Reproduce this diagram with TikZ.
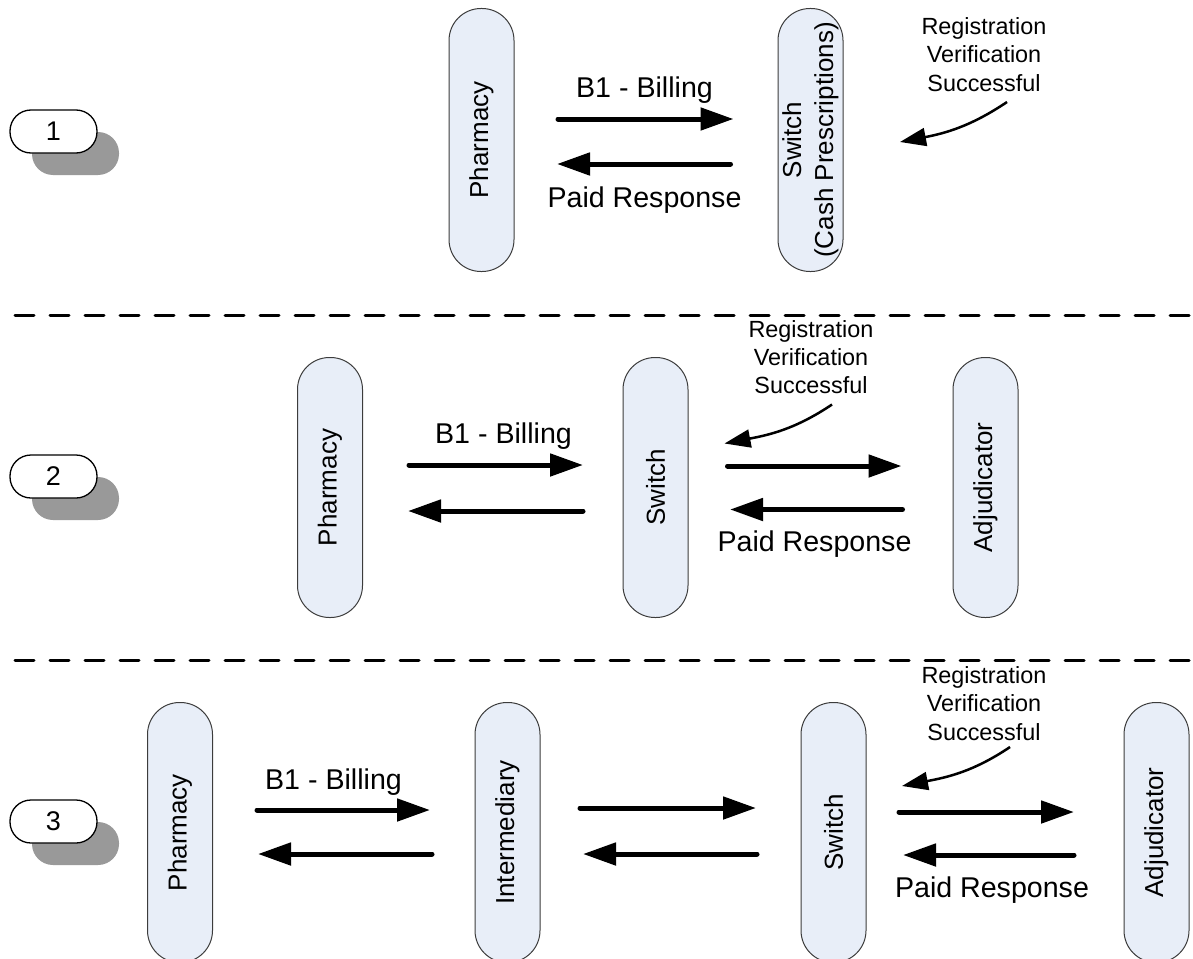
\documentclass[tikz,border=0pt]{standalone}
\usepackage{fontspec}
\setmainfont{Liberation Sans}
\usetikzlibrary{arrows.meta}
\definecolor{pillfill}{RGB}{232,238,248}
\definecolor{pillline}{RGB}{60,60,60}
\definecolor{shadowgray}{RGB}{153,153,153}
\begin{document}
\begin{tikzpicture}[x=1pt,y=1pt,
  pill/.style={draw=pillline, line width=1pt, fill=pillfill, rounded corners=32pt,
    minimum width=260pt, minimum height=65pt, inner sep=0pt, align=center, rotate=90,
    font=\fontsize{26}{32}\selectfont},
  numlabel/.style={draw=black, line width=1.3pt, fill=white, rounded corners=21pt,
    minimum width=87pt, minimum height=43pt, inner sep=0pt, font=\fontsize{27}{32}\selectfont},
  numshadow/.style={fill=shadowgray, rounded corners=21pt, minimum width=87pt,
    minimum height=43pt, inner sep=0pt},
  flow/.style={line width=5pt, line cap=round, -{Triangle[length=33pt,width=22pt]}},
  note/.style={line width=2.5pt, -{Triangle[length=26pt,width=18pt]}},
  sep/.style={line width=3pt, line cap=round, dash pattern=on 19pt off 16pt},
  lbl/.style={font=\fontsize{28.6}{34}\selectfont, anchor=base, inner sep=0pt},
  regtxt/.style={font=\fontsize{23.4}{28}\selectfont, anchor=base, inner sep=0pt}
]
\useasboundingbox (0,0) rectangle (1193,-958);

% separators
\draw[sep] (15,-315.5) -- (1193,-315.5);
\draw[sep] (15,-660) -- (1193,-660);

% ---------- Section 1 ----------
\node[numshadow] (s1) at (75.5,-153.5) {};
\node[numlabel] (n1) at (53.5,-131.5) {1};
\node[pill, minimum width=263pt] (ph1) at (481.5,-140) {Pharmacy};
\node[pill, minimum width=263pt] (sw1) at (810.5,-140) {Switch\\(Cash Prescriptions)};
\draw[flow, shorten <=76.5pt, shorten >=77pt] (ph1.center |- 0,-119) -- (sw1.center |- 0,-119);
\draw[flow, shorten <=80pt, shorten >=75.5pt] (sw1.center |- 0,-164) -- (ph1.center |- 0,-164);
\node[lbl] (b1) at (644.5,-97) {B1 - Billing};
\node[lbl] (p1) at (644.5,-207) {Paid Response};
\node[regtxt] (r1a) at (984,-35) {Registration};
\node[regtxt] (r1b) at (984,-63) {Verification};
\node[regtxt] (r1c) at (984,-91.5) {Successful};
\coordinate (c1s) at (1007,-102);
\coordinate (c1e) at (900,-142);
\draw[note] (c1s) to[out=214, in=11] (c1e);

% ---------- Section 2 ----------
\node[numshadow] (s2) at (75.5,-498.5) {};
\node[numlabel] (n2) at (53.5,-476.5) {2};
\node[pill] (ph2) at (330,-487.5) {Pharmacy};
\node[pill] (sw2) at (655.5,-487.5) {Switch};
\node[pill] (ad2) at (985.5,-487.5) {Adjudicator};
\draw[flow, shorten <=79pt, shorten >=72.5pt] (ph2.center |- 0,-465) -- (sw2.center |- 0,-465);
\draw[flow, shorten <=72.5pt, shorten >=78pt] (sw2.center |- 0,-511) -- (ph2.center |- 0,-511);
\draw[flow, shorten <=72pt, shorten >=84pt] (sw2.center |- 0,-466) -- (ad2.center |- 0,-466);
\draw[flow, shorten <=83pt, shorten >=74.5pt] (ad2.center |- 0,-509.5) -- (sw2.center |- 0,-509.5);
\node[lbl] (b2) at (503.5,-443) {B1 - Billing};
\node[lbl] (p2) at (814.5,-551.5) {Paid Response};
\node[regtxt] (r2a) at (811,-337) {Registration};
\node[regtxt] (r2b) at (811,-365) {Verification};
\node[regtxt] (r2c) at (811,-393) {Successful};
\coordinate (c2s) at (832,-404.5);
\coordinate (c2e) at (724.5,-443.5);
\draw[note] (c2s) to[out=214, in=11] (c2e);

% ---------- Section 3 ----------
\node[numshadow] (s3) at (75.5,-843.5) {};
\node[numlabel] (n3) at (53.5,-821.5) {3};
\node[pill] (ph3) at (180,-832.5) {Pharmacy};
\node[pill] (in3) at (507.5,-832.5) {Intermediary};
\node[pill] (sw3) at (833.5,-832.5) {Switch};
\node[pill] (ad3) at (1156.5,-832.5) {Adjudicator};
\draw[flow, shorten <=77pt, shorten >=77.5pt] (ph3.center |- 0,-810) -- (in3.center |- 0,-810);
\draw[flow, shorten <=75.5pt, shorten >=78pt] (in3.center |- 0,-854) -- (ph3.center |- 0,-854);
\draw[flow, shorten <=72.5pt, shorten >=77.5pt] (in3.center |- 0,-808) -- (sw3.center |- 0,-808);
\draw[flow, shorten <=76.5pt, shorten >=75.5pt] (sw3.center |- 0,-854) -- (in3.center |- 0,-854);
\draw[flow, shorten <=65.5pt, shorten >=82.5pt] (sw3.center |- 0,-812) -- (ad3.center |- 0,-812);
\draw[flow, shorten <=82.5pt, shorten >=69.5pt] (ad3.center |- 0,-855) -- (sw3.center |- 0,-855);
\node[lbl] (b3) at (333.5,-789) {B1 - Billing};
\node[lbl] (p3) at (992,-897) {Paid Response};
\node[regtxt] (r3a) at (984,-683) {Registration};
\node[regtxt] (r3b) at (984,-711.5) {Verification};
\node[regtxt] (r3c) at (984,-740) {Successful};
\coordinate (c3s) at (1010,-747);
\coordinate (c3e) at (902,-786);
\draw[note] (c3s) to[out=214, in=11] (c3e);
\end{tikzpicture}
\end{document}
